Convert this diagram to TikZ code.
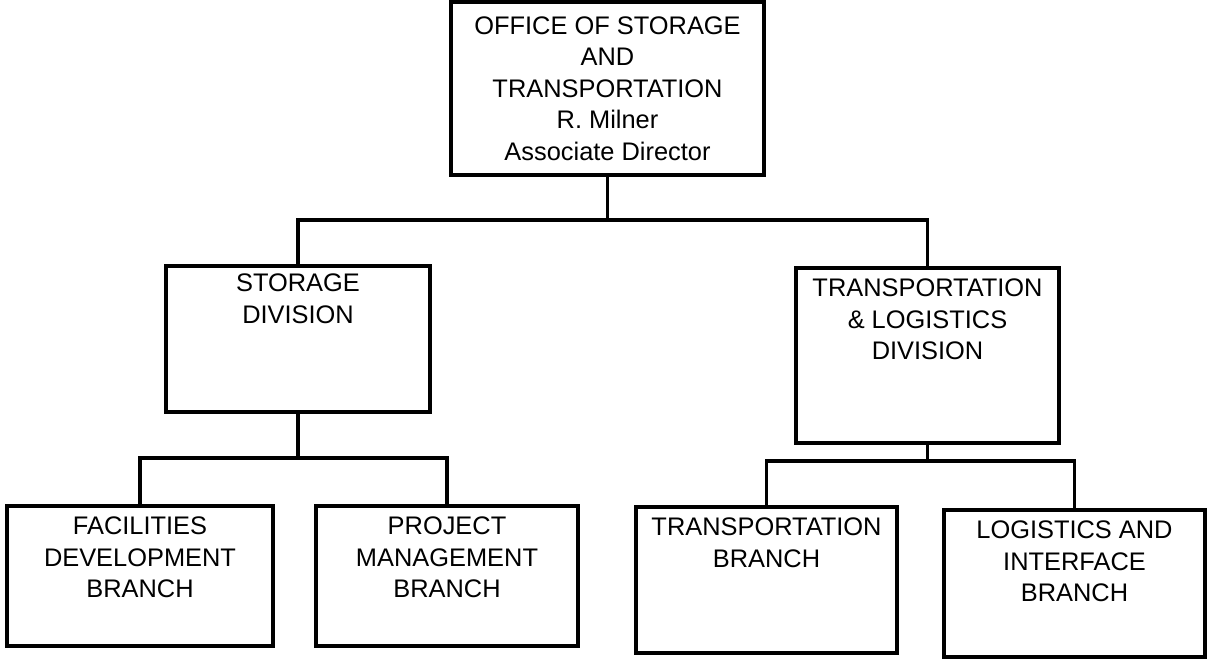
\documentclass[tikz,border=0pt]{standalone}
\usepackage{fontspec}
\setmainfont{Liberation Sans}

\tikzset{
	unit/.style={draw, rectangle, line width=1.6pt, inner sep=0pt},
	lbl/.style={anchor=north, align=center, inner sep=0pt, yshift=-6pt},
	link/.style={line width=1.6pt},
}

\begin{document}
\begin{tikzpicture}[x=0.5pt, y=-0.5pt, font=\fontsize{12.7}{15.8}\selectfont]
	\useasboundingbox (0, 0) rectangle (1209, 660);

	\node[unit, align=center, minimum width=156.5pt, minimum height=86.5pt] (office) at (607.5, 88.5)
		{OFFICE OF STORAGE\\AND\\TRANSPORTATION\\R. Milner\\Associate Director};

	\node[unit, minimum width=132pt, minimum height=73pt, label={[lbl, yshift=1.5pt]north:STORAGE\\DIVISION}] (storage) at (298, 339) {};
	\node[unit, minimum width=131.5pt, minimum height=87.5pt, label={[lbl]north:TRANSPORTATION\\\& LOGISTICS\\DIVISION}] (tld) at (927.5, 355.5) {};

	\node[unit, minimum width=133pt, minimum height=70pt, label={[lbl]north:FACILITIES\\DEVELOPMENT\\BRANCH}] (facil) at (140, 576) {};
	\node[unit, minimum width=131pt, minimum height=70pt, label={[lbl]north:PROJECT\\MANAGEMENT\\BRANCH}] (project) at (447, 576) {};
	\node[unit, minimum width=130.5pt, minimum height=73pt, label={[lbl]north:TRANSPORTATION\\BRANCH}] (transp) at (766.5, 580) {};
	\node[unit, minimum width=130.5pt, minimum height=73.5pt, label={[lbl]north:LOGISTICS AND\\INTERFACE\\BRANCH}] (logist) at (1074.5, 583.5) {};

	\coordinate (topbus) at (603, 220);
	\coordinate (storbus) at (296, 458);
	\coordinate (tldbus) at (921, 461);

	\draw[link] (office.south) -- (office.south |- topbus);
	\draw[link] (storage.north) |- (topbus) -| (tld.north);

	\draw[link] (storage.south) -- (storage.south |- storbus);
	\draw[link] (facil.north) |- (storbus) -| (project.north);

	\draw[link] (tld.south) -- (tld.south |- tldbus);
	\draw[link] (transp.north) |- (tldbus) -| (logist.north);
\end{tikzpicture}
\end{document}
